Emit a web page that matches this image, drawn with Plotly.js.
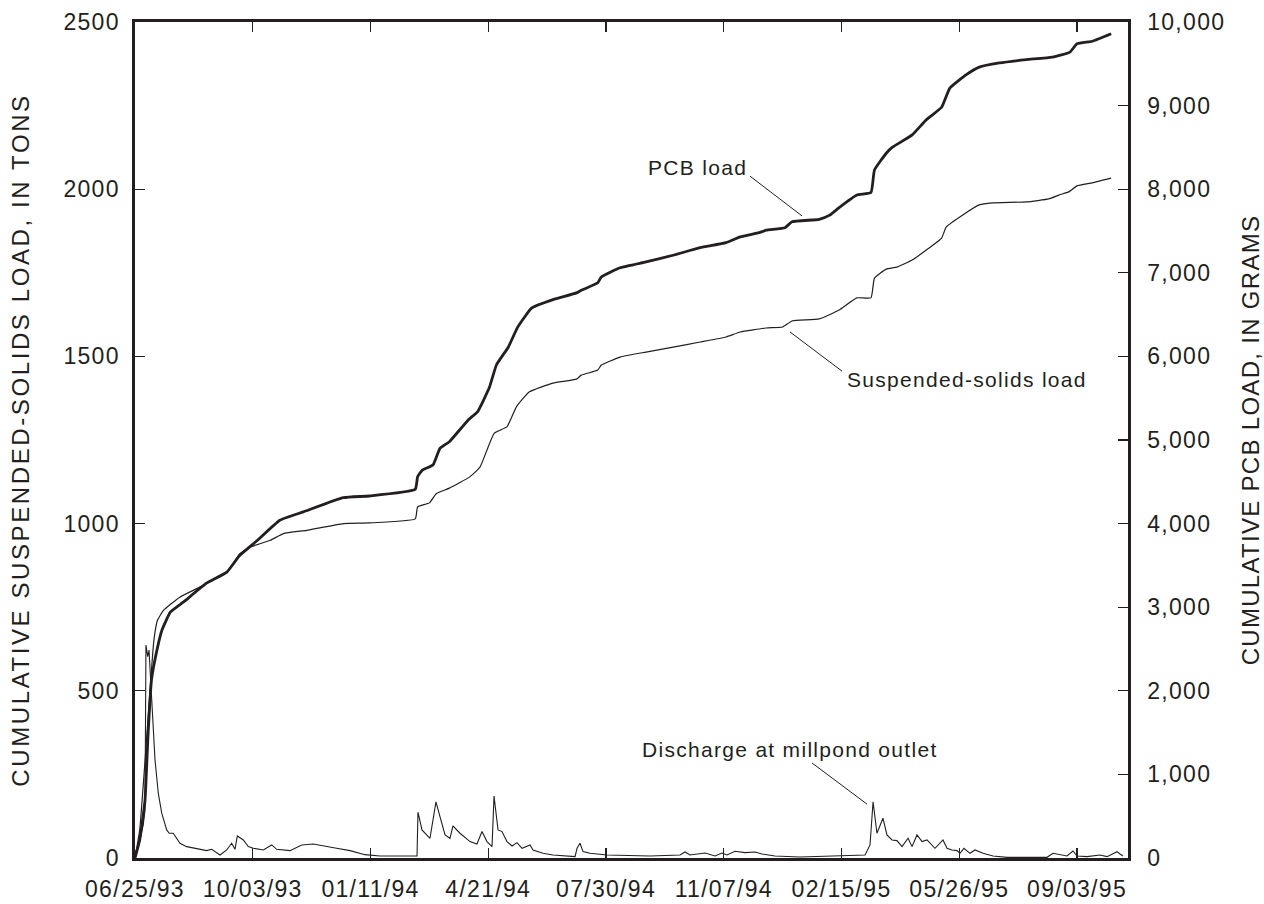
<!DOCTYPE html>
<html>
<head>
<meta charset="utf-8">
<script src="https://cdn.plot.ly/plotly-3.0.1.min.js"></script>
<style>
  html, body { margin: 0; padding: 0; background: #ffffff; }
  #chart { width: 1264px; height: 904px; }
  /* the lettering is slightly tracked out (applies to the text tester too) */
  svg text { letter-spacing: 1.3px; }
  svg text.ytitle { letter-spacing: 2.6px; }
</style>
</head>
<body>
<div id="chart"></div>
<script>
// Days are counted from the first day of record, 06/25/93.
const startDate = Date.UTC(1993, 5, 25);

// Cumulative PCB load, in grams (right axis)
const pcbDays = [0, 4, 8.5, 11, 14, 19, 23, 30, 41, 61, 78, 89, 104, 123, 143, 177, 199, 238, 240, 244, 253, 259, 267, 283, 291, 301, 307, 317, 325, 337, 355, 375, 379, 393, 396, 412, 434, 457, 480, 502, 514, 530, 536, 552, 558, 581, 590, 598, 613, 625, 628, 638, 643, 660, 672, 685, 692, 706, 717, 734, 757, 779, 794, 800, 813, 829];
const pcbGrams = [0, 215, 690, 1450, 2130, 2510, 2730, 2940, 3060, 3290, 3420, 3620, 3800, 4040, 4140, 4310, 4330, 4410, 4560, 4640, 4700, 4900, 4980, 5240, 5340, 5630, 5900, 6110, 6350, 6580, 6680, 6760, 6790, 6880, 6950, 7060, 7130, 7210, 7300, 7360, 7430, 7480, 7510, 7540, 7610, 7640, 7690, 7780, 7930, 7960, 8230, 8430, 8500, 8650, 8830, 8980, 9210, 9370, 9460, 9510, 9550, 9580, 9640, 9740, 9770, 9860];

// Cumulative suspended-solids load, in tons (left axis)
const ssDays = [0, 4, 8.5, 12.7, 16, 19, 24, 38, 55, 78, 89, 98, 115, 126, 146, 177, 199, 238, 240, 250, 256, 267, 284, 293, 305, 316, 324, 335, 355, 375, 379, 393, 396, 412, 434, 457, 480, 502, 514, 536, 550, 558, 581, 598, 613, 625, 628, 638, 647, 660, 672, 685, 689, 703, 717, 728, 757, 776, 785, 793, 800, 813, 829];
const ssTons = [0, 84, 290, 500, 650, 710, 740, 780, 810, 855, 910, 930, 950, 970, 980, 1000, 1002, 1014, 1050, 1062, 1090, 1106, 1139, 1169, 1270, 1290, 1350, 1394, 1420, 1432, 1444, 1459, 1474, 1498, 1513, 1528, 1543, 1558, 1573, 1585, 1588, 1606, 1612, 1639, 1675, 1675, 1734, 1761, 1767, 1788, 1818, 1854, 1887, 1923, 1953, 1959, 1962, 1971, 1983, 1992, 2010, 2019, 2033];

// Discharge at millpond outlet (drawn against the left scale)
const qDays = [0, 4, 7, 8.5, 9.3, 10.8, 11.9, 14.2, 17, 19.8, 22.7, 26.9, 29.1, 32.5, 38.2, 43.9, 52.4, 60.9, 65.1, 72.2, 77.9, 82.1, 84.9, 86.9, 92, 96.2, 100.5, 109, 116.1, 120.3, 131.6, 141.6, 151.4, 157.1, 170, 182.6, 195.3, 208, 239.5, 240.3, 243.7, 250.5, 255.6, 259, 263.3, 267.5, 270, 276, 284.5, 290.4, 294.7, 298.9, 303.2, 304.9, 308.3, 311.7, 315.9, 320.2, 324.4, 328.7, 335.5, 338, 346.5, 355, 366.9, 373.7, 375.4, 377.9, 380.5, 386.4, 400.8, 422.9, 437.4, 462.8, 467.1, 471.3, 484.1, 492.6, 498.5, 502.8, 509.6, 518, 526.6, 532.5, 543.5, 564.8, 600.4, 620, 624.2, 626.8, 630.1, 635.2, 638.6, 642.9, 647.1, 651.4, 656.5, 659.9, 664.1, 668.4, 672.6, 679.4, 686.2, 689.6, 693.8, 698.1, 700.6, 704, 709.1, 713.4, 720.2, 728.7, 740.6, 762.6, 774.5, 779.6, 785.6, 791.5, 796.6, 800, 808.5, 819.5, 825.5, 834, 836.5, 839];
const qValues = [14, 50, 100, 143, 637, 602, 622, 472, 293, 193, 134, 84, 74, 74, 44, 34, 29, 22, 26, 9, 24, 44, 26, 66, 54, 34, 29, 24, 39, 26, 22, 39, 42, 39, 30, 22, 10, 6, 6, 137, 84, 59, 168, 124, 69, 59, 96, 74, 49, 42, 79, 49, 34, 185, 84, 79, 49, 36, 46, 29, 39, 24, 14, 9, 6, 4, 29, 44, 19, 14, 9, 6, 6, 9, 18, 9, 15, 6, 15, 9, 20, 16, 18, 12, 6, 3, 6, 9, 39, 168, 74, 119, 69, 54, 52, 34, 59, 34, 69, 49, 54, 29, 54, 29, 24, 22, 14, 29, 14, 24, 14, 6, 2, 1, 2, 14, 9, 6, 21, 6, 4, 9, 4, 19, 12, 6];

// Date ticks, every 100 days
const tickDates = ['1993-06-25', '1993-10-03', '1994-01-11', '1994-04-21', '1994-07-30', '1994-11-07', '1995-02-15', '1995-05-26', '1995-09-03'];
const tickLabels = ['06/25/93', '10/03/93', '01/11/94', '4/21/94', '07/30/94', '11/07/94', '02/15/95', '05/26/95', '09/03/95'];

// Curve labels
const labelTexts = ['PCB load', 'Suspended-solids load', 'Discharge at millpond outlet'];

function toDate(d) {
  return new Date(startDate + d * 86400000).toISOString().slice(0, 19).replace('T', ' ');
}

const ink = '#231f20';
const fontFamily = '"Liberation Sans", Arial, Helvetica, sans-serif';

const traces = [
  {
    x: qDays.map(toDate), y: qValues, yaxis: 'y', type: 'scatter', mode: 'lines',
    line: { color: ink, width: 1.1 }, name: 'Discharge', hoverinfo: 'skip'
  },
  {
    x: ssDays.map(toDate), y: ssTons, yaxis: 'y', type: 'scatter', mode: 'lines',
    line: { color: ink, width: 1.2, shape: 'spline', smoothing: 0.4 }, name: 'Suspended-solids load'
  },
  {
    x: pcbDays.map(toDate), y: pcbGrams, yaxis: 'y2', type: 'scatter', mode: 'lines',
    line: { color: ink, width: 2.8, shape: 'spline', smoothing: 0.4 }, name: 'PCB load'
  }
];

// leader line from a label to its curve (day, left-scale value)
const leader = (d0, v0, d1, v1) => ({
  type: 'line', xref: 'x', yref: 'y',
  x0: toDate(d0), y0: v0, x1: toDate(d1), y1: v1,
  line: { color: ink, width: 1 }
});

const layout = {
  width: 1264, height: 904,
  margin: { l: 135, r: 136, t: 22, b: 46 },
  paper_bgcolor: '#ffffff', plot_bgcolor: '#ffffff',
  showlegend: false,
  font: { family: fontFamily, size: 23, color: ink },
  xaxis: {
    type: 'date',
    range: [toDate(0), toDate(843.3)],
    tickvals: tickDates, ticktext: tickLabels,
    ticks: 'inside', ticklen: 10, tickwidth: 1.2, tickcolor: ink,
    mirror: 'ticks', showline: true, linewidth: 2.6, linecolor: ink,
    showgrid: false, zeroline: false,
    tickfont: { size: 23 }, ticklabelstandoff: 9
  },
  yaxis: {
    range: [0, 2500], tickvals: [0, 500, 1000, 1500, 2000, 2500],
    tickformat: 'd',
    ticks: 'inside', ticklen: 10, tickwidth: 1.2, tickcolor: ink,
    showline: true, linewidth: 2.6, linecolor: ink,
    showgrid: false, zeroline: false,
    tickfont: { size: 23 }, ticklabelstandoff: 8,
    title: { text: 'CUMULATIVE SUSPENDED-SOLIDS LOAD, IN TONS', font: { size: 24 }, standoff: 27 }
  },
  yaxis2: {
    overlaying: 'y', side: 'right',
    range: [0, 10000], dtick: 1000, tickformat: ',d',
    ticks: 'inside', ticklen: 10, tickwidth: 1.2, tickcolor: ink,
    showline: true, linewidth: 2.6, linecolor: ink,
    showgrid: false, zeroline: false,
    tickfont: { size: 23 }, ticklabelstandoff: 12,
    title: { text: 'CUMULATIVE PCB LOAD, IN GRAMS', font: { size: 24 }, standoff: 18 }
  },
  shapes: [
    leader(522.3, 2039, 566.5, 1920),
    leader(556.3, 1573, 600.4, 1456),
    leader(575, 284, 621.7, 161)
  ],
  annotations: [
    { text: labelTexts[0], x: toDate(477.3), y: 2066, xref: 'x', yref: 'y', showarrow: false, xanchor: 'center', yanchor: 'middle', font: { size: 21 } },
    { text: labelTexts[1], x: toDate(603), y: 1432, xref: 'x', yref: 'y', showarrow: false, xanchor: 'left', yanchor: 'middle', font: { size: 21 } },
    { text: labelTexts[2], x: toDate(556), y: 323, xref: 'x', yref: 'y', showarrow: false, xanchor: 'center', yanchor: 'middle', font: { size: 21 } }
  ]
};

Plotly.newPlot('chart', traces, layout, { displayModeBar: false, staticPlot: true });
</script>
</body>
</html>
